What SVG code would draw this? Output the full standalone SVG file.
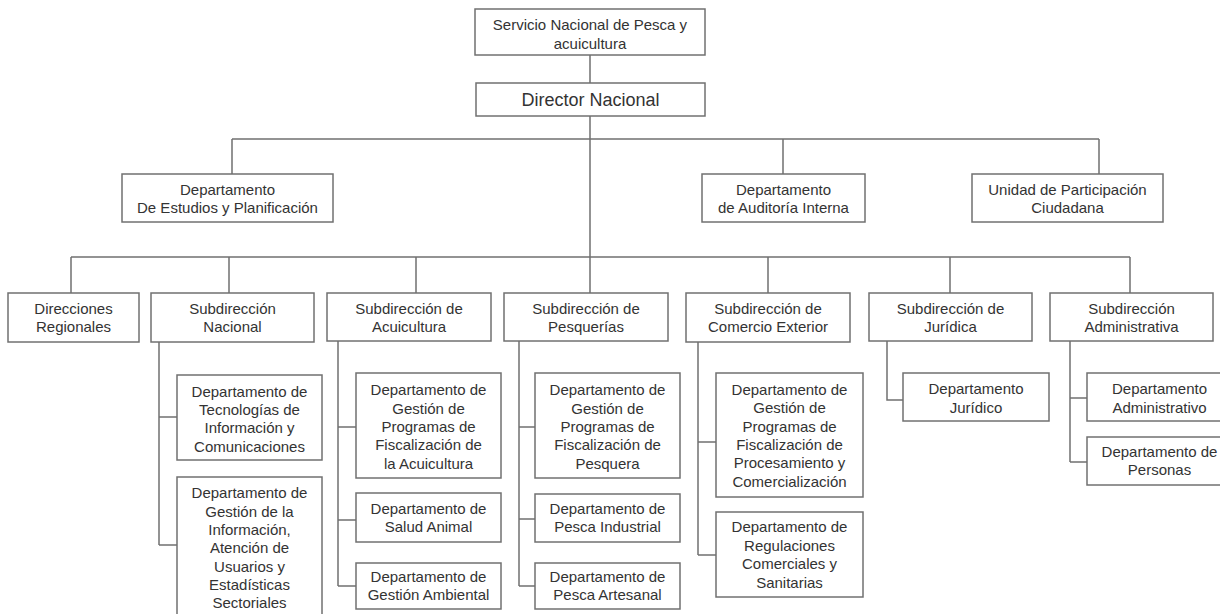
<svg xmlns="http://www.w3.org/2000/svg" width="1220" height="614" viewBox="0 0 1220 614">
<style>
.box{fill:#fff;stroke:#707070;stroke-width:1.5}
.ln{fill:none;stroke:#707070;stroke-width:1.5}
text{font-family:"Liberation Sans",Arial,sans-serif;font-size:15px;fill:#333;text-anchor:middle}
.big{font-size:18px}
</style>
<rect width="1220" height="614" fill="#fff"/>
<g id="connectors">
<path class="ln" d="M590,55V83 M590,116V293 M232,139H1099 M232,139V174 M783,139V174 M1099,139V174 M71,257H1130 M71,257V293 M229,257V293 M416,257V293 M768,257V293 M950,257V293 M1130,257V293"/>
<path class="ln" d="M159,342V545 M159,417H177 M159,545H177"/>
<path class="ln" d="M338,341V586 M338,427H356 M338,520H356 M338,586H356"/>
<path class="ln" d="M519,341V586 M519,427H535 M519,519H535 M519,586H535"/>
<path class="ln" d="M698,342V555 M698,442H716 M698,555H716"/>
<path class="ln" d="M887,341V400H903"/>
<path class="ln" d="M1070,341V462 M1070,398H1087 M1070,462H1087"/>
</g>
<g id="servicio"><rect class="box" x="475" y="9" width="230" height="46"/><text x="590" y="30">Servicio Nacional de Pesca y</text><text x="590" y="48.5">acuicultura</text></g>
<g id="director"><rect class="box" x="476" y="83" width="229" height="33"/><text class="big" x="590.5" y="106">Director Nacional</text></g>
<g id="estudios"><rect class="box" x="122" y="174" width="211" height="48"/><text x="227.5" y="195">Departamento</text><text x="227.5" y="213">De Estudios y Planificación</text></g>
<g id="auditoria"><rect class="box" x="702" y="174" width="163" height="48"/><text x="783.5" y="195">Departamento</text><text x="783.5" y="213">de Auditoría Interna</text></g>
<g id="unidad"><rect class="box" x="972" y="174" width="191" height="48"/><text x="1067.5" y="195">Unidad de Participación</text><text x="1067.5" y="213">Ciudadana</text></g>
<g id="direcciones"><rect class="box" x="8" y="293" width="131" height="49"/><text x="73.5" y="314">Direcciones</text><text x="73.5" y="332">Regionales</text></g>
<g id="subNacional"><rect class="box" x="151" y="293" width="163" height="49"/><text x="232.5" y="314">Subdirección</text><text x="232.5" y="332">Nacional</text></g>
<g id="subAcuicultura"><rect class="box" x="327" y="293" width="164" height="48"/><text x="409" y="314">Subdirección de</text><text x="409" y="332">Acuicultura</text></g>
<g id="subPesquerias"><rect class="box" x="504" y="293" width="164" height="48"/><text x="586" y="314">Subdirección de</text><text x="586" y="332">Pesquerías</text></g>
<g id="subComercio"><rect class="box" x="686" y="293" width="164" height="49"/><text x="768" y="314">Subdirección de</text><text x="768" y="332">Comercio Exterior</text></g>
<g id="subJuridica"><rect class="box" x="869" y="293" width="163" height="48"/><text x="950.5" y="314">Subdirección de</text><text x="950.5" y="332">Jurídica</text></g>
<g id="subAdmin"><rect class="box" x="1050" y="293" width="163" height="48"/><text x="1131.5" y="314">Subdirección</text><text x="1131.5" y="332">Administrativa</text></g>
<g id="tecnologias"><rect class="box" x="177" y="375" width="145" height="85"/><text x="249.5" y="397">Departamento de</text><text x="249.5" y="415">Tecnologías de</text><text x="249.5" y="433">Información y</text><text x="249.5" y="451.5">Comunicaciones</text></g>
<g id="gestionInfo"><rect class="box" x="177" y="477" width="145" height="150"/><text x="249.5" y="498">Departamento de</text><text x="249.5" y="516.5">Gestión de la</text><text x="249.5" y="535">Información,</text><text x="249.5" y="553">Atención de</text><text x="249.5" y="571.5">Usuarios y</text><text x="249.5" y="590">Estadísticas</text><text x="249.5" y="608">Sectoriales</text></g>
<g id="fiscAcuicultura"><rect class="box" x="356" y="373" width="145" height="105"/><text x="428.5" y="395">Departamento de</text><text x="428.5" y="413.5">Gestión de</text><text x="428.5" y="432">Programas de</text><text x="428.5" y="450">Fiscalización de</text><text x="428.5" y="468.5">la Acuicultura</text></g>
<g id="saludAnimal"><rect class="box" x="356" y="493" width="145" height="49"/><text x="428.5" y="514">Departamento de</text><text x="428.5" y="532">Salud Animal</text></g>
<g id="gestionAmbiental"><rect class="box" x="356" y="563" width="145" height="46"/><text x="428.5" y="582">Departamento de</text><text x="428.5" y="600">Gestión Ambiental</text></g>
<g id="fiscPesquera"><rect class="box" x="535" y="373" width="145" height="105"/><text x="607.5" y="395">Departamento de</text><text x="607.5" y="413.5">Gestión de</text><text x="607.5" y="432">Programas de</text><text x="607.5" y="450">Fiscalización de</text><text x="607.5" y="468.5">Pesquera</text></g>
<g id="pescaIndustrial"><rect class="box" x="535" y="494" width="145" height="48"/><text x="607.5" y="514">Departamento de</text><text x="607.5" y="532">Pesca Industrial</text></g>
<g id="pescaArtesanal"><rect class="box" x="535" y="563" width="145" height="46"/><text x="607.5" y="582">Departamento de</text><text x="607.5" y="600">Pesca Artesanal</text></g>
<g id="fiscComercio"><rect class="box" x="716" y="373" width="147" height="124"/><text x="789.5" y="395">Departamento de</text><text x="789.5" y="413">Gestión de</text><text x="789.5" y="432">Programas de</text><text x="789.5" y="450">Fiscalización de</text><text x="789.5" y="468">Procesamiento y</text><text x="789.5" y="487">Comercialización</text></g>
<g id="regulaciones"><rect class="box" x="716" y="512" width="147" height="85"/><text x="789.5" y="532">Departamento de</text><text x="789.5" y="550.5">Regulaciones</text><text x="789.5" y="569">Comerciales y</text><text x="789.5" y="587.5">Sanitarias</text></g>
<g id="deptJuridico"><rect class="box" x="903" y="373" width="146" height="48"/><text x="976" y="394">Departamento</text><text x="976" y="412.5">Jurídico</text></g>
<g id="deptAdministrativo"><rect class="box" x="1087" y="373" width="145" height="48"/><text x="1159.5" y="394">Departamento</text><text x="1159.5" y="412.5">Administrativo</text></g>
<g id="deptPersonas"><rect class="box" x="1087" y="437" width="145" height="48"/><text x="1159.5" y="457">Departamento de</text><text x="1159.5" y="475">Personas</text></g>
</svg>
